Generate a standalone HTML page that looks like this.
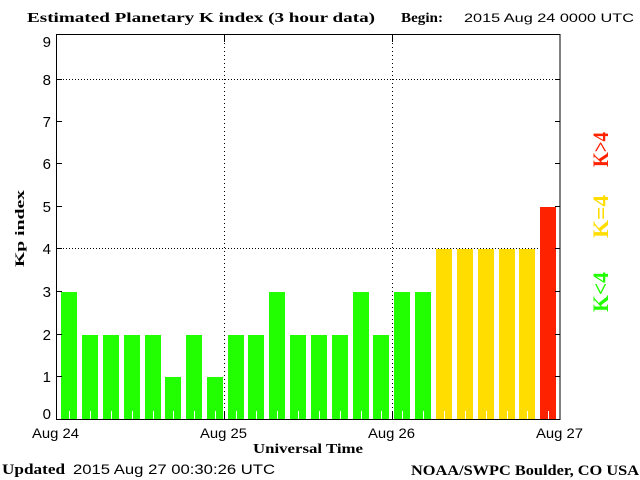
<!DOCTYPE html>
<html><head><meta charset="utf-8"><style>
html,body{margin:0;padding:0;background:#fff;}
svg{display:block;}
.sb{font-family:"Liberation Serif",serif;font-weight:bold;fill:#000;}
.sa{font-family:"Liberation Sans",sans-serif;fill:#000;}
</style></head><body>
<svg width="640" height="480" viewBox="0 0 640 480" xmlns="http://www.w3.org/2000/svg">
<rect width="640" height="480" fill="#fff"/>
<g shape-rendering="crispEdges">
<line x1="57" y1="79.5" x2="560" y2="79.5" stroke="#000" stroke-width="1" stroke-dasharray="1 2"/>
<line x1="57" y1="248.5" x2="560" y2="248.5" stroke="#000" stroke-width="1" stroke-dasharray="1 2"/>
<line x1="224.5" y1="35" x2="224.5" y2="419" stroke="#000" stroke-width="1" stroke-dasharray="1 3"/>
<line x1="392.5" y1="35" x2="392.5" y2="419" stroke="#000" stroke-width="1" stroke-dasharray="1 3"/>
<g fill="#22FF00">
<rect x="61" y="292" width="16" height="127"/>
<rect x="82" y="335" width="16" height="84"/>
<rect x="103" y="335" width="16" height="84"/>
<rect x="124" y="335" width="16" height="84"/>
<rect x="145" y="335" width="16" height="84"/>
<rect x="165" y="377" width="16" height="42"/>
<rect x="186" y="335" width="16" height="84"/>
<rect x="207" y="377" width="16" height="42"/>
<rect x="228" y="335" width="16" height="84"/>
<rect x="248" y="335" width="16" height="84"/>
<rect x="269" y="292" width="16" height="127"/>
<rect x="290" y="335" width="16" height="84"/>
<rect x="311" y="335" width="16" height="84"/>
<rect x="332" y="335" width="16" height="84"/>
<rect x="353" y="292" width="16" height="127"/>
<rect x="373" y="335" width="16" height="84"/>
<rect x="394" y="292" width="16" height="127"/>
<rect x="415" y="292" width="16" height="127"/>
</g>
<g fill="#FFDD00">
<rect x="436" y="249" width="16" height="170"/>
<rect x="457" y="249" width="16" height="170"/>
<rect x="478" y="249" width="16" height="170"/>
<rect x="499" y="249" width="16" height="170"/>
<rect x="519" y="249" width="16" height="170"/>
</g>
<rect x="540" y="207" width="16" height="212" fill="#FF2200"/>
<g stroke="#fff" stroke-width="1">
<line x1="69.5" y1="411" x2="69.5" y2="419"/>
<line x1="90.5" y1="411" x2="90.5" y2="419"/>
<line x1="111.5" y1="411" x2="111.5" y2="419"/>
<line x1="132.5" y1="411" x2="132.5" y2="419"/>
<line x1="153.5" y1="411" x2="153.5" y2="419"/>
<line x1="173.5" y1="411" x2="173.5" y2="419"/>
<line x1="194.5" y1="411" x2="194.5" y2="419"/>
<line x1="215.5" y1="411" x2="215.5" y2="419"/>
<line x1="236.5" y1="411" x2="236.5" y2="419"/>
<line x1="256.5" y1="411" x2="256.5" y2="419"/>
<line x1="277.5" y1="411" x2="277.5" y2="419"/>
<line x1="298.5" y1="411" x2="298.5" y2="419"/>
<line x1="319.5" y1="411" x2="319.5" y2="419"/>
<line x1="340.5" y1="411" x2="340.5" y2="419"/>
<line x1="361.5" y1="411" x2="361.5" y2="419"/>
<line x1="381.5" y1="411" x2="381.5" y2="419"/>
<line x1="402.5" y1="411" x2="402.5" y2="419"/>
<line x1="423.5" y1="411" x2="423.5" y2="419"/>
<line x1="444.5" y1="411" x2="444.5" y2="419"/>
<line x1="465.5" y1="411" x2="465.5" y2="419"/>
<line x1="486.5" y1="411" x2="486.5" y2="419"/>
<line x1="507.5" y1="411" x2="507.5" y2="419"/>
<line x1="527.5" y1="411" x2="527.5" y2="419"/>
<line x1="548.5" y1="411" x2="548.5" y2="419"/>
</g>
<rect x="56.5" y="34.5" width="503.5" height="385" fill="none" stroke="#000" stroke-width="1"/>
<g stroke="#000" stroke-width="1">
<line x1="224.5" y1="35" x2="224.5" y2="42"/>
<line x1="392.5" y1="35" x2="392.5" y2="42"/>
<line x1="224.5" y1="412" x2="224.5" y2="419"/>
<line x1="392.5" y1="412" x2="392.5" y2="419"/>
<line x1="57" y1="79.5" x2="62" y2="79.5"/>
<line x1="57" y1="121.5" x2="62" y2="121.5"/>
<line x1="57" y1="163.5" x2="62" y2="163.5"/>
<line x1="57" y1="206.5" x2="62" y2="206.5"/>
<line x1="57" y1="248.5" x2="62" y2="248.5"/>
<line x1="57" y1="291.5" x2="62" y2="291.5"/>
<line x1="57" y1="334.5" x2="62" y2="334.5"/>
<line x1="57" y1="376.5" x2="62" y2="376.5"/>
<line x1="555" y1="79.5" x2="560" y2="79.5"/>
<line x1="555" y1="121.5" x2="560" y2="121.5"/>
<line x1="555" y1="163.5" x2="560" y2="163.5"/>
<line x1="555" y1="206.5" x2="560" y2="206.5"/>
<line x1="555" y1="248.5" x2="560" y2="248.5"/>
<line x1="555" y1="291.5" x2="560" y2="291.5"/>
<line x1="555" y1="334.5" x2="560" y2="334.5"/>
<line x1="555" y1="376.5" x2="560" y2="376.5"/>
</g>
</g>
<g class="sa" font-size="15" text-anchor="end">
<text x="51" y="47">9</text>
<text x="51" y="85">8</text>
<text x="51" y="127">7</text>
<text x="51" y="169">6</text>
<text x="51" y="212">5</text>
<text x="51" y="254">4</text>
<text x="51" y="297">3</text>
<text x="51" y="340">2</text>
<text x="51" y="382">1</text>
<text x="51" y="419">0</text>
</g>
<g class="sa" font-size="14">
<text x="32" y="438" textLength="47" lengthAdjust="spacingAndGlyphs">Aug 24</text>
<text x="200" y="438" textLength="47" lengthAdjust="spacingAndGlyphs">Aug 25</text>
<text x="368" y="438" textLength="47" lengthAdjust="spacingAndGlyphs">Aug 26</text>
<text x="536" y="438" textLength="47" lengthAdjust="spacingAndGlyphs">Aug 27</text>
</g>
<text class="sb" x="27" y="22" font-size="13.5" textLength="348" lengthAdjust="spacingAndGlyphs">Estimated Planetary K index (3 hour data)</text>
<text class="sb" x="401" y="22" font-size="13.5" textLength="42" lengthAdjust="spacingAndGlyphs">Begin:</text>
<text class="sa" x="464" y="22" font-size="12" textLength="170" lengthAdjust="spacingAndGlyphs">2015 Aug 24 0000 UTC</text>
<text class="sb" x="253" y="453" font-size="14" textLength="110" lengthAdjust="spacingAndGlyphs">Universal Time</text>
<text class="sb" x="2" y="474" font-size="15" textLength="63" lengthAdjust="spacingAndGlyphs">Updated</text>
<text class="sa" x="73" y="474" font-size="14" textLength="202" lengthAdjust="spacingAndGlyphs">2015 Aug 27 00:30:26 UTC</text>
<text class="sb" x="411" y="475" font-size="15" textLength="228" lengthAdjust="spacingAndGlyphs">NOAA/SWPC Boulder, CO USA</text>
<text class="sb" transform="translate(24,228.5) rotate(-90)" x="-38.5" y="0" font-size="13" textLength="77" lengthAdjust="spacingAndGlyphs">Kp index</text>
<text class="sb" transform="translate(608,149.5) rotate(-90)" x="-17.5" y="0" font-size="22" style="fill:#FF2200" textLength="35" lengthAdjust="spacingAndGlyphs">K&gt;4</text>
<text class="sb" transform="translate(608,216.5) rotate(-90)" x="-21.5" y="0" font-size="22" style="fill:#FFDD00" textLength="43" lengthAdjust="spacingAndGlyphs">K=4</text>
<text class="sb" transform="translate(608,292) rotate(-90)" x="-20" y="0" font-size="22" style="fill:#22FF00" textLength="40" lengthAdjust="spacingAndGlyphs">K&lt;4</text>
</svg>
</body></html>
